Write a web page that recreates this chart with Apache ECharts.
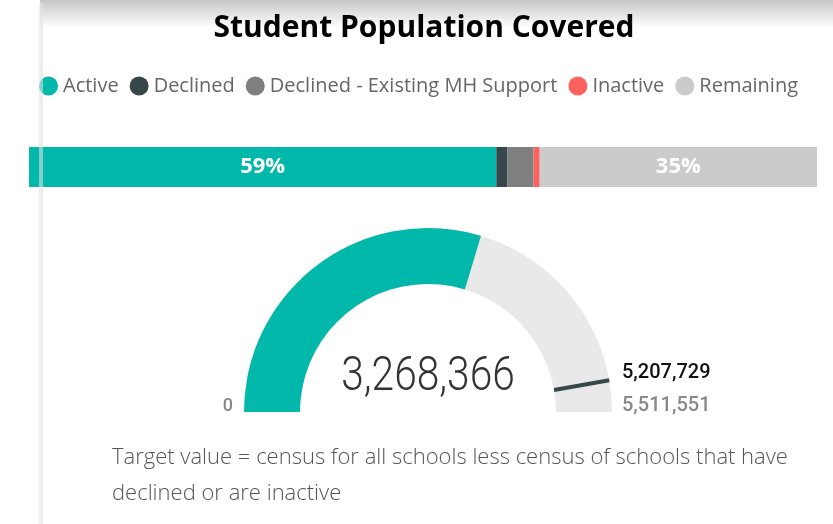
<!DOCTYPE html>
<html><head><meta charset="utf-8">
<script src="https://cdn.jsdelivr.net/npm/echarts@6/dist/echarts.min.js"></script>
<style>html,body{margin:0;padding:0;background:#fff;}#c{width:833px;height:524px;}</style>
</head><body><div id="c"></div>
<script>
// ---- data ----
const categories = ['Active', 'Declined', 'Declined - Existing MH Support', 'Inactive', 'Remaining'];
const values = [3268366, 78000, 183000, 42822, 1939363];
const colors = ['#01B8AA', '#374649', '#7F7F7F', '#FD625E', '#CBCBCB'];
const gaugeValue = [3268366];
const gaugeTarget = [5207729];
const gaugeMin = [0];
const gaugeMax = [5511551];
const labelledCategories = ['Active', 'Remaining'];
const footnote = ['Target value = census for all schools less census of schools that have', 'declined or are inactive'];

const total = values.reduce((a, b) => a + b, 0);
const fmt = v => v.toLocaleString('en-US');

const chart = echarts.init(document.getElementById('c'), null, {renderer: 'canvas'});

const barSeries = categories.map((name, i) => ({
  name, type: 'bar', stack: 'all', barWidth: 40,
  data: [values[i]],
  itemStyle: {color: colors[i]},
  label: {
    show: labelledCategories.includes(name),
    position: 'inside',
    formatter: p => Math.round(p.value / total * 100) + '%',
    color: '#fff', fontFamily: 'Open Sans', fontWeight: 'bold', fontSize: 22
  },
  emphasis: {disabled: true}
}));

const gaugeCommon = {
  type: 'gauge', center: [428, 412], radius: 184,
  startAngle: 180, endAngle: 0, min: gaugeMin[0], max: gaugeMax[0],
  splitLine: {show: false}, axisTick: {show: false}, axisLabel: {show: false},
  title: {show: false}, detail: {show: false}, silent: true
};

chart.setOption({
  animation: false,
  title: {
    text: 'Student Population Covered', left: 419, top: 8, textAlign: 'center',
    textStyle: {fontFamily: 'Open Sans', fontWeight: 'bold', fontSize: 30, color: '#000'}
  },
  legend: {
    data: categories, left: 34, top: 71, icon: 'circle', itemWidth: 19, itemHeight: 19, itemGap: 11,
    textStyle: {fontFamily: 'Open Sans', fontSize: 20, color: '#666'}
  },
  grid: {left: 29, right: 16, top: 147, height: 40},
  xAxis: {type: 'value', min: 0, max: total, show: false},
  yAxis: {type: 'category', data: ['Population'], show: false},
  series: [
    ...barSeries,
    Object.assign({}, gaugeCommon, {
      axisLine: {lineStyle: {width: 56, color: [[1, '#E9E9E9']]}},
      progress: {show: true, width: 56, itemStyle: {color: '#01B8AA'}},
      pointer: {show: false},
      data: [{value: gaugeValue[0]}]
    }),
    Object.assign({}, gaugeCommon, {
      axisLine: {show: false},
      progress: {show: false},
      pointer: {show: true, icon: 'rect', width: 4, length: 56, offsetCenter: [0, -128], itemStyle: {color: '#374649'}},
      anchor: {show: false},
      data: [{value: gaugeTarget[0]}]
    })
  ],
  graphic: [
    {type: 'rect', shape: {x: 40, y: 0, width: 793, height: 28}, silent: true,
     style: {fill: new echarts.graphic.LinearGradient(0, 0, 0, 1, [{offset: 0, color: 'rgba(0,0,0,0.22)'}, {offset: 1, color: 'rgba(0,0,0,0)'}])}},
    {type: 'rect', shape: {x: 39, y: 3, width: 4, height: 521}, silent: true, z: 100,
     style: {fill: 'rgba(225,225,225,0.58)'}},
    {type: 'text', x: 428, y: 378, scaleX: 0.83, originX: 0, z: 10,
     style: {text: fmt(gaugeValue[0]), fontFamily: 'Roboto', fontWeight: 300, fontSize: 49, fill: '#333', align: 'center', verticalAlign: 'middle'}},
    {type: 'text', x: 233, y: 406, z: 10,
     style: {text: fmt(gaugeMin[0]), fontFamily: 'Roboto', fontWeight: 500, fontSize: 18, fill: '#888', align: 'right', verticalAlign: 'middle'}},
    {type: 'text', x: 622, y: 373, z: 10,
     style: {text: fmt(gaugeTarget[0]), fontFamily: 'Roboto', fontWeight: 500, fontSize: 20, fill: '#111', align: 'left', verticalAlign: 'middle'}},
    {type: 'text', x: 622, y: 406, z: 10,
     style: {text: fmt(gaugeMax[0]), fontFamily: 'Roboto', fontWeight: 500, fontSize: 20, fill: '#888', align: 'left', verticalAlign: 'middle'}},
    {type: 'text', x: 112, y: 458, z: 10,
     style: {text: footnote[0], fontFamily: 'Open Sans', fontWeight: 300, fontSize: 22, fill: '#555', align: 'left', verticalAlign: 'middle'}},
    {type: 'text', x: 112, y: 494, z: 10,
     style: {text: footnote[1], fontFamily: 'Open Sans', fontWeight: 300, fontSize: 22, fill: '#555', align: 'left', verticalAlign: 'middle'}}
  ]
});
</script></body></html>
